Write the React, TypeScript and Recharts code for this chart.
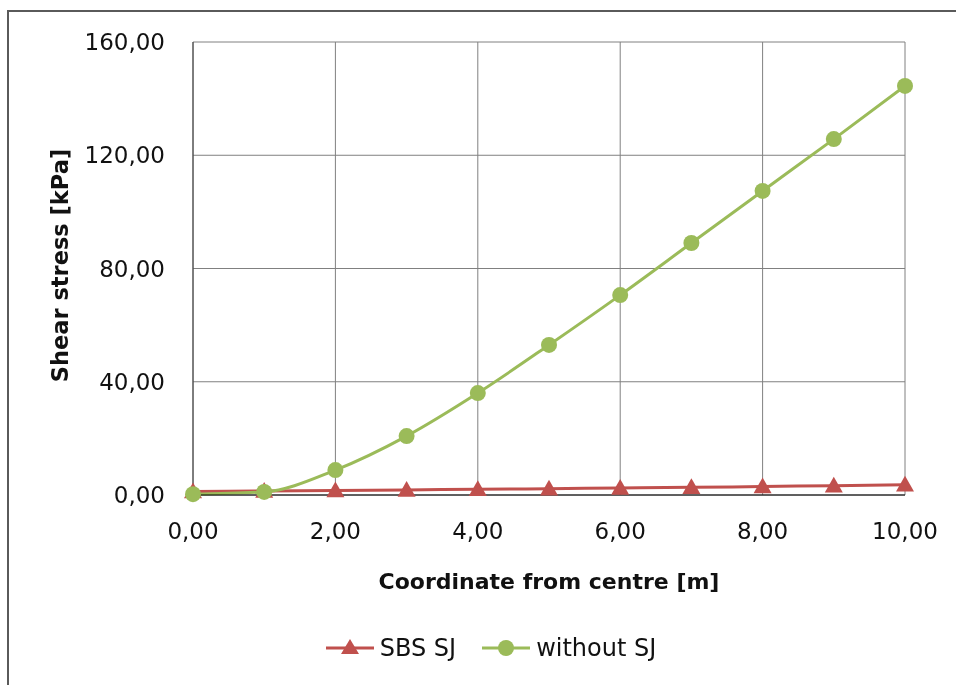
import React from 'react';
import { LineChart, Line, XAxis, YAxis, CartesianGrid, Legend } from 'recharts';

const xCoords = [0, 1, 2, 3, 4, 5, 6, 7, 8, 9, 10];
const sbsSJ = [1.2, 1.4, 1.6, 1.8, 2.0, 2.2, 2.5, 2.7, 3.0, 3.3, 3.6];
const withoutSJ = [0.3, 1.1, 8.8, 20.8, 36.0, 53.0, 70.6, 89.0, 107.4, 125.7, 144.5];
const xTicks = [0, 2, 4, 6, 8, 10];
const yTicks = [0, 40, 80, 120, 160];
const seriesNames = ['SBS SJ', 'without SJ'];
const xTitle = 'Coordinate from centre [m]';
const yTitle = 'Shear stress [kPa]';

const RED = '#C0504D';
const GREEN = '#9BBB59';
const FONT = '"DejaVu Sans", sans-serif';
const TXT = '#111111';

const data = xCoords.map((x, i) => ({ x, sbs: sbsSJ[i], without: withoutSJ[i] }));

const fmt = (v: number) => v.toFixed(2).replace('.', ',');

const Triangle = (props: any) => {
  const { cx, cy, index } = props;
  if (cx == null || cy == null) return null;
  const s = 9;
  return (
    <path
      key={`t-${index}`}
      d={`M${cx},${cy - s} L${cx + s},${cy + s * 0.75} L${cx - s},${cy + s * 0.75} Z`}
      fill={RED}
      stroke="none"
    />
  );
};

const Circle = (props: any) => {
  const { cx, cy, index } = props;
  if (cx == null || cy == null) return null;
  return <circle key={`c-${index}`} cx={cx} cy={cy} r={8} fill={GREEN} stroke="none" />;
};

const renderLegend = (props: any) => {
  const { payload } = props;
  return (
    <div
      style={{
        display: 'flex',
        justifyContent: 'center',
        alignItems: 'center',
        gap: 26,
        paddingLeft: 26,
        fontFamily: FONT,
        fontSize: 24,
        color: TXT,
      }}
    >
      {(payload || []).map((entry: any) => {
        const isSbs = entry.dataKey === 'sbs';
        const c = isSbs ? RED : GREEN;
        return (
          <div key={entry.value} style={{ display: 'flex', alignItems: 'center' }}>
            <svg width={48} height={22} style={{ marginRight: 6 }}>
              <line x1={0} y1={11} x2={48} y2={11} stroke={c} strokeWidth={3} />
              {isSbs ? (
                <path d="M24,2 L33,17 L15,17 Z" fill={c} />
              ) : (
                <circle cx={24} cy={11} r={8} fill={c} />
              )}
            </svg>
            <span>{entry.value}</span>
          </div>
        );
      })}
    </div>
  );
};

const YLabel = (p: any) => {
  const vb = p.viewBox || {};
  const cx = (vb.x || 0) + 60;
  const cy = (vb.y || 0) + (vb.height || 0) / 2 - 3;
  return (
    <text
      x={cx}
      y={cy}
      transform={`rotate(-90 ${cx} ${cy})`}
      textAnchor="middle"
      dominantBaseline="central"
      fontFamily={FONT}
      fontSize={22.5}
      fontWeight="bold"
      fill={TXT}
    >
      {yTitle}
    </text>
  );
};

export default function App() {
  return (
    <div>
      <div
        style={{
          position: 'fixed',
          left: 7,
          top: 10,
          width: 949,
          height: 675,
          borderTop: '2px solid #5a5a5a',
          borderLeft: '2px solid #5a5a5a',
          boxSizing: 'border-box',
        }}
      />
      <div style={{ position: 'fixed', left: 0, top: 0 }}>
        <LineChart
          width={956}
          height={685}
          data={data}
          margin={{ top: 42, right: 51, bottom: 90, left: 0 }}
        >
          <CartesianGrid stroke="#808080" strokeWidth={1} />
          <XAxis
            type="number"
            dataKey="x"
            domain={[0, 10]}
            ticks={xTicks}
            tickFormatter={fmt}
            height={100}
            tickLine={false}
            tickSize={0}
            tickMargin={28}
            axisLine={{ stroke: '#000', strokeWidth: 1 }}
            tick={{ fontFamily: FONT, fontSize: 23, fill: TXT }}
            label={{
              value: xTitle,
              position: 'insideBottom',
              offset: 6,
              style: { fontFamily: FONT, fontSize: 22, fontWeight: 'bold', fill: TXT },
            }}
          />
          <YAxis
            type="number"
            domain={[0, 160]}
            ticks={yTicks}
            tickFormatter={fmt}
            width={193}
            tickLine={false}
            tickSize={0}
            tickMargin={28}
            axisLine={{ stroke: '#3a3a3a', strokeWidth: 1 }}
            tick={{ fontFamily: FONT, fontSize: 23, fill: TXT }}
            label={{ content: YLabel }}
          />
          <Legend
            verticalAlign="middle"
            layout="horizontal"
            content={renderLegend}
            wrapperStyle={{ position: 'absolute', top: 634, left: 0, width: 956 }}
          />
          <Line
            name={seriesNames[0]}
            type="monotone"
            dataKey="sbs"
            stroke={RED}
            strokeWidth={3}
            dot={Triangle}
            activeDot={false}
            isAnimationActive={false}
          />
          <Line
            name={seriesNames[1]}
            type="monotone"
            dataKey="without"
            stroke={GREEN}
            strokeWidth={3}
            dot={Circle}
            activeDot={false}
            isAnimationActive={false}
          />
        </LineChart>
      </div>
    </div>
  );
}
